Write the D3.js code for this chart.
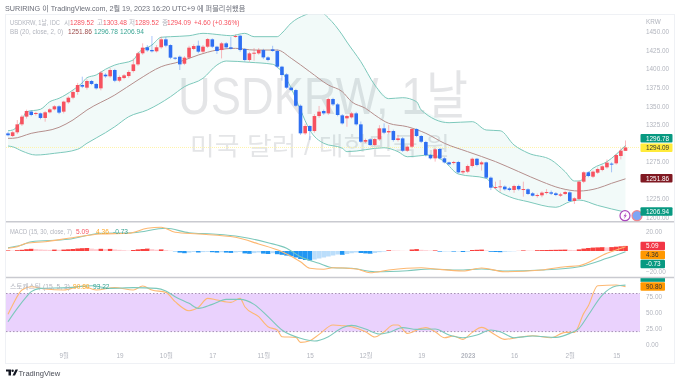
<!DOCTYPE html>
<html>
<head>
<meta charset="utf-8">
<script src="https://cdn.jsdelivr.net/npm/d3@7"></script>
<style>
  html, body { margin: 0; padding: 0; background: #fff; }
  text { font-family: "Liberation Sans", "Noto Sans CJK KR", sans-serif; }
  svg { filter: blur(0.35px); }
</style>
</head>
<body>
<div id="chart"></div>
<script>
const opens = [
  1313, 1309.5, 1314.5, 1325.2, 1335.6, 1342.3, 1339.2, 1340, 1333.8, 1341.4,
  1345.4, 1349.5, 1342.3, 1354.9, 1361.1, 1368.8, 1378.2, 1374.6, 1383.6, 1379.6,
  1373.7, 1392.1, 1389.9, 1398.4, 1384, 1387.6, 1390.3, 1397, 1406, 1420.9,
  1429, 1425.4, 1423.6, 1429, 1439.7, 1432, 1415, 1416.3, 1406.9, 1415,
  1426.7, 1431.2, 1423.1, 1429.8, 1439.7, 1429.8, 1425.3, 1434.3, 1428.9, 1443.3,
  1444.6, 1426.7, 1411.9, 1420.8, 1420.8, 1425.3, 1415.4, 1426.2, 1424, 1402.9,
  1392.5, 1374.6, 1371.4, 1350.3, 1313.1, 1323, 1316.2, 1336.4, 1343.2, 1340,
  1359.3, 1352.1, 1337.3, 1333.3, 1334.6, 1340, 1325.2, 1301.8, 1305, 1297.4,
  1305, 1319.8, 1314.4, 1316.2, 1304.1, 1306.3, 1289.7, 1295.1, 1318.9, 1309.5,
  1301.4, 1283.9, 1279.4, 1292, 1279.4, 1274, 1273.1, 1274.5, 1260.5, 1261.4,
  1269.1, 1278.9, 1271.3, 1274, 1253.4, 1239.9, 1240.4, 1241.3, 1239, 1236.8,
  1242.2, 1237.2, 1237.7, 1232.3, 1228.7, 1229.6, 1232.7, 1233.6, 1232.3, 1229.1,
  1231.4, 1233.6, 1222, 1224.7, 1248, 1260.6, 1254.7, 1260.1, 1263.7, 1267.3,
  1272.3, 1272.7, 1282.6, 1289.52
];
const closes = [
  1310.5, 1314.5, 1325.2, 1335.6, 1343.2, 1337.8, 1340.5, 1333.8, 1341.4, 1345.4,
  1349.5, 1341, 1355.8, 1361.1, 1368.8, 1378.2, 1376, 1383.6, 1379.6, 1373.7,
  1394.8, 1389.9, 1398.4, 1384, 1389, 1391.2, 1395.7, 1406, 1420.9, 1428.5,
  1424.9, 1423.6, 1429, 1439.7, 1431.2, 1415, 1414.1, 1406, 1415, 1428.5,
  1430.7, 1423.1, 1429.8, 1440.1, 1429.8, 1424, 1434.3, 1428.9, 1427.1, 1444.2,
  1425.3, 1411.9, 1420.8, 1421.7, 1425.3, 1415.4, 1411.9, 1424, 1402.9, 1391.6,
  1374.6, 1371.4, 1350.3, 1313.1, 1323, 1316.2, 1336.4, 1342.3, 1340, 1359.3,
  1352.1, 1337.8, 1326.5, 1336.4, 1340, 1325.2, 1301.8, 1304.1, 1297.4, 1305.4,
  1319.8, 1314, 1316.2, 1304.1, 1306.3, 1289.7, 1295.1, 1318.9, 1309.5, 1301.8,
  1283.9, 1279.4, 1291.5, 1279.4, 1274, 1271.3, 1274.5, 1260.5, 1262.3, 1269.1,
  1278.9, 1270.4, 1274, 1253.4, 1239.9, 1240.8, 1241.7, 1237.7, 1236.8, 1242.2,
  1237.7, 1238.1, 1231.4, 1229.1, 1230, 1233.2, 1234.1, 1231.8, 1230, 1230.9,
  1234.1, 1222, 1225.6, 1248, 1260.6, 1255.6, 1261.5, 1265, 1268.7, 1273.6,
  1271.4, 1283.9, 1289.8, 1294.09
];
const highs = [
  1315, 1316, 1331, 1338, 1345, 1344, 1342, 1341, 1343, 1347,
  1351, 1351, 1357, 1363, 1371, 1381, 1389.4, 1386, 1385, 1381,
  1397, 1394, 1401, 1400, 1391, 1393, 1398, 1414, 1423, 1434.3,
  1432, 1444.2, 1432, 1443.3, 1443, 1433, 1416, 1418, 1417, 1431,
  1433, 1438, 1432, 1441.5, 1441, 1431, 1436, 1436, 1443, 1446,
  1445.5, 1428, 1423, 1428, 1428, 1427, 1417, 1431, 1426, 1404,
  1394, 1376, 1373, 1352, 1326, 1324, 1339, 1350, 1345, 1361,
  1361, 1354, 1339, 1338, 1342, 1342, 1329, 1306, 1306.5, 1307,
  1324, 1326.5, 1324.3, 1318, 1311, 1308, 1297, 1320, 1320, 1311,
  1303, 1285, 1293, 1293, 1281, 1275, 1276, 1276, 1264, 1271,
  1280.5, 1280, 1276, 1275, 1255, 1248, 1250.3, 1243, 1241, 1244,
  1244, 1248, 1239, 1234, 1232, 1235, 1238, 1236, 1234, 1233,
  1236, 1235, 1227, 1249.5, 1262, 1262, 1263, 1267, 1270, 1278,
  1274, 1285.5, 1293, 1303.48
];
const lows = [
  1309, 1308, 1312, 1323, 1333, 1336, 1337, 1332, 1328.8, 1340,
  1344, 1339, 1340, 1353, 1359, 1365, 1374, 1372, 1378, 1372,
  1371, 1388, 1388, 1382, 1382, 1386, 1388, 1395, 1404, 1419,
  1423, 1422, 1422, 1427, 1429, 1413, 1412, 1398.4, 1405, 1413,
  1425, 1421, 1421, 1428, 1428, 1420, 1414, 1427, 1426, 1442,
  1423, 1410, 1409.5, 1411, 1419, 1413, 1410, 1423, 1401, 1384,
  1373, 1370, 1349, 1311, 1311, 1304, 1314, 1334, 1338, 1338,
  1350, 1336, 1325, 1322, 1333, 1323.5, 1300, 1300, 1296, 1296,
  1303, 1312, 1312, 1302, 1302, 1288, 1288, 1293, 1308, 1300,
  1282, 1278, 1275, 1278, 1272.5, 1270, 1271, 1259, 1258, 1259.5,
  1267, 1268.5, 1263, 1252, 1236.7, 1238, 1234.5, 1236, 1235, 1233,
  1236, 1227.8, 1230, 1228, 1226.5, 1227, 1231, 1230, 1228.5, 1227.5,
  1230, 1221, 1218, 1223, 1246, 1254, 1253, 1258.5, 1262, 1265.5,
  1260.6, 1271, 1278, 1289.52
];

const bbUpperAt = [0, 1, 3, 4, 7, 9, 11, 14, 16, 17, 19, 21, 23, 27, 28, 31, 33, 35, 39, 42, 46, 48, 51, 53, 58, 59, 61, 64, 67, 69, 72, 73, 76, 79, 82, 85, 88, 89, 95, 100, 103, 106, 109, 112, 117, 120, 122, 123, 126, 129, 133];
const bbUpper = [1316.6, 1317.6, 1331, 1342.2, 1345.5, 1355.7, 1360.3, 1371.5, 1381.3, 1388, 1391.7, 1399.4, 1405.1, 1411.9, 1420.9, 1432.1, 1442.5, 1443.3, 1444.6, 1447.8, 1445.6, 1444.6, 1447.8, 1443.3, 1443.3, 1448.2, 1461.7, 1472.6, 1477.9, 1468.5, 1445.6, 1436.1, 1409.6, 1378.2, 1359.8, 1361.1, 1355.7, 1344.5, 1327.4, 1328.8, 1317.6, 1316.6, 1297.4, 1286.6, 1277.2, 1261.4, 1248.9, 1248.9, 1266, 1274.9, 1296.78];
const bbMidAt = [0, 1, 5, 11, 14, 17, 23, 28, 33, 37, 41, 45, 49, 53, 58, 61, 65, 69, 72, 74, 77, 79, 82, 86, 90, 94, 99, 105, 110, 115, 119, 123, 127, 130, 133];
const bbMid = [1306.4, 1306.4, 1313.1, 1321.2, 1331.1, 1344.5, 1364.7, 1385, 1402.9, 1409.6, 1418.6, 1425.3, 1427.6, 1425.3, 1425.3, 1414.2, 1396.1, 1378.2, 1369.2, 1355.7, 1346.8, 1337.8, 1326.6, 1322, 1313.1, 1299.7, 1288.4, 1275, 1261.5, 1248, 1239.1, 1235.4, 1239.1, 1245.8, 1251.86];
const bbLowerAt = [0, 1, 3, 6, 10, 15, 17, 21, 23, 26, 30, 35, 38, 42, 45, 47, 52, 57, 59, 61, 63, 65, 68, 72, 73, 81, 84, 86, 91, 94, 97, 103, 105, 108, 112, 118, 121, 123, 127, 133];
const bbLower = [1296, 1295, 1289.3, 1283.9, 1286.2, 1291.6, 1299.7, 1314, 1322, 1335.5, 1344.5, 1362.4, 1375.9, 1387.2, 1405.1, 1410.5, 1408.8, 1406.1, 1395.7, 1373.8, 1344.5, 1317.6, 1299.7, 1293, 1288.4, 1293.7, 1288.4, 1281.6, 1283.9, 1274.9, 1258.3, 1252.5, 1238, 1227.7, 1221, 1213.5, 1221, 1223.3, 1216, 1206.94];

const macdHist = [
  0.6, 0.4, 0.8, 1.2, 1.8, 2.2, 1.9, 1.6, 1.3, 1.1,
  1.4, 1.2, 1.4, 1.7, 2.0, 2.5, 2.8, 3.0, 2.4, 1.8,
  2.2, 1.9, 2.1, 1.6, 1.2, 0.8, 0.4, 1.0, 1.6, 2.0,
  2.4, 1.9, 1.3, 1.6, 0.9, 0.3, -0.3, -1.6, -2.2, -1.6,
  -1.0, -1.5, -1.1, -0.8, -1.2, -1.6, -1.2, -1.6, -1.9, -1.4,
  -1.0, -2.4, -2.8, -2.1, -1.5, -2.6, -3.0, -2.2, -3.2, -3.8,
  -4.6, -5.2, -6.5, -8, -9, -9.5, -8.5, -7.5, -6.5, -5.5,
  -4.5, -3.5, -3.8, -3, -2.2, -1.5, -2, -2.4, -2.7, -2,
  -1.2, -0.6, 0.7, 0.5, 0.4, 0.2, 0.1, 1.5, 1.9, 1.2,
  0.8, 0.4, 0.6, -0.6, -0.5, -0.4, -0.6, -0.4, -1.0, -0.7,
  1.0, 1.2, 1.4, 0.6, -0.8, -1.0, -1.2, -0.8, -0.5, -0.3,
  0.1, 0.6, 0.4, 0.3, 0.8, 0.9, 1, 1.1, 1.2, 1.3,
  1.4, 1.1, 0.9, 1.6, 2.4, 3.0, 3.4, 3.6, 3.8, 3.6,
  3.9, 4.3, 4.7, 5.09
];
const macdSignalAt = [0, 3, 5, 13, 20, 27, 34, 39, 44, 50, 56, 60, 63, 67, 70, 74, 79, 86, 91, 97, 102, 107, 115, 123, 129, 133];
const macdSignal = [3.3, 6, 9.3, 11.7, 17.7, 18.3, 22.7, 18.3, 17, 14.3, 8.3, 2.7, -5.7, -12.3, -16.7, -17.3, -20.7, -19.7, -18, -19, -18, -20, -19, -15.7, -7.3, -0.73];
const macdLineAt = [0, 2, 4, 8, 13, 20, 26, 30, 33, 36, 41, 49, 54, 59, 63, 65, 68, 70, 75, 78, 82, 89, 92, 98, 102, 107, 115, 120, 123, 129, 133];
const macdLine = [2.7, 4.3, 7.7, 9.3, 12.7, 17, 17.7, 22.7, 23.7, 18.7, 17, 13.7, 7, -0.7, -10.7, -17.3, -18.3, -16.7, -18, -21.7, -19, -16.7, -18, -20, -17, -20.7, -19, -15.7, -14.7, -2.3, 4.36];

const stochSlowAt = [0, 2, 4, 5, 7, 13, 18, 22, 27, 32, 34, 36, 39, 41, 44, 47, 50, 53, 56, 59, 63, 66, 69, 72, 74, 77, 80, 82, 85, 88, 92, 95, 98, 101, 104, 106, 109, 113, 118, 121, 123, 125, 128, 131, 133];
const stochSlow = [35.6, 56.6, 75, 82.9, 88.1, 89.2, 92.3, 88.1, 89.2, 88.1, 83.9, 75, 64.5, 56.6, 62.9, 70.8, 70.8, 62.9, 43.5, 22.5, 9.4, 5.1, 12, 26, 29.8, 24, 16.2, 18.8, 26.2, 23.5, 24, 14.6, 10.4, 14.6, 22.5, 19.9, 10.4, 13, 10.9, 17.2, 25.1, 46.1, 77.6, 91.8, 93.22];
const stochFastAt = [0, 1, 3, 5, 8, 12, 16, 19, 23, 27, 29, 31, 34, 36, 39, 41, 43, 45, 48, 50, 51, 54, 56, 58, 59, 62, 63, 65, 67, 70, 72, 74, 77, 79, 81, 83, 84, 86, 89, 90, 92, 94, 96, 98, 100, 102, 105, 107, 110, 113, 117, 120, 122, 124, 125, 127, 131, 133];
const stochFast = [47.2, 61.9, 85.5, 90.7, 87, 85.5, 91.8, 85.5, 89.2, 85.5, 91.8, 85.5, 81.8, 67.1, 52.9, 58.2, 72.4, 69.7, 66, 72.4, 59.2, 43.5, 27.7, 22.5, 12, 10.9, 3, 5.7, 15.6, 30.4, 29.3, 27.7, 19.9, 11.5, 19.9, 30.4, 30.4, 17.2, 25.1, 26.2, 19.9, 10.4, 13, 7.8, 18.8, 26.7, 14.6, 7.8, 10.9, 13.5, 10.4, 18.8, 18.8, 48.7, 60.8, 92.3, 93.4, 90.8];

const timeTickAt = [12, 24, 34, 44, 55, 65, 77, 89, 99, 109, 121, 131];
const timeLabels = ['9월', '19', '10월', '17', '11월', '15', '12월', '19', '2023', '16', '2월', '15'];
const priceTicks = [1200, 1225, 1275, 1325, 1350, 1375, 1400, 1425, 1450];
const macdTicks = [20, -20];
const stochTicks = [0, 25, 50, 75];

const width = 680, height = 382;
const fontStack = '"Liberation Sans", "Noto Sans CJK KR", sans-serif';
const red = '#f7525f', blue = '#2e6ff2', teal = '#089981';
const bandLine = '#7cc8bb', midLine = '#b58f8d', orange = '#fdb872', grey = '#b2b5be';

const svg = d3.select('#chart').append('svg')
  .attr('width', width).attr('height', height)
  .style('display', 'block');

const x = d3.scaleLinear().domain([0, 133]).range([8, 625.5]);
const yPrice = d3.scaleLinear().domain([1200, 1450]).range([217.3, 31.7]);
const yMacd = d3.scaleLinear().domain([-20, 20]).range([271, 231]);
const yStoch = d3.scaleLinear().domain([0, 100]).range([344.3, 280.8]);

const defs = svg.append('defs');
defs.append('clipPath').attr('id', 'clipMain').append('rect').attr('x', 6).attr('y', 14.5).attr('width', 634).attr('height', 207);
defs.append('clipPath').attr('id', 'clipMacd').append('rect').attr('x', 6).attr('y', 222).attr('width', 634).attr('height', 55);
defs.append('clipPath').attr('id', 'clipStoch').append('rect').attr('x', 6).attr('y', 278).attr('width', 634).attr('height', 85);

// outer frame
svg.append('rect').attr('x', 5.5).attr('y', 14.5).attr('width', 669).attr('height', 349)
  .attr('fill', 'none').attr('stroke', '#eff1f5');

// watermark
const mark = svg.append('g').attr('fill', '#787b86').attr('fill-opacity', 0.2);
mark.append('text').attr('x', 178).attr('y', 114).attr('font-size', 52)
  .attr('textLength', 290).attr('lengthAdjust', 'spacingAndGlyphs').text('USDKRW, 1날');
mark.append('text').attr('x', 190).attr('y', 155).attr('font-size', 25)
  .attr('textLength', 260).attr('lengthAdjust', 'spacingAndGlyphs').text('미국 달러 / 대한민국 원');

function series(at, values, scale) {
  return at.map((a, i) => [x(a), scale(values[i])]);
}

// main pane
const main = svg.append('g').attr('clip-path', 'url(#clipMain)');
const upperPts = series(bbUpperAt, bbUpper, yPrice);
const lowerPts = series(bbLowerAt, bbLower, yPrice);
main.append('path')
  .attr('d', d3.line()(upperPts.concat(lowerPts.slice().reverse())) + 'Z')
  .attr('fill', '#26a69a').attr('fill-opacity', 0.06);
main.append('line').attr('x1', 6).attr('x2', 640)
  .attr('y1', yPrice(closes[133])).attr('y2', yPrice(closes[133]))
  .attr('stroke', '#fff3a8').attr('stroke-dasharray', '1,1');

const pathLine = d3.line().curve(d3.curveMonotoneX);
[[upperPts, bandLine], [lowerPts, bandLine], [series(bbMidAt, bbMid, yPrice), midLine]].forEach(([pts, col]) => {
  main.append('path').attr('d', pathLine(pts)).attr('fill', 'none').attr('stroke', col).attr('stroke-width', 1);
});

const candles = main.append('g').selectAll('g').data(d3.range(opens.length)).join('g');
candles.append('line')
  .attr('x1', i => x(i)).attr('x2', i => x(i))
  .attr('y1', i => yPrice(highs[i])).attr('y2', i => yPrice(lows[i]))
  .attr('stroke', i => closes[i] >= opens[i] ? red : blue)
  .attr('stroke-opacity', 0.4);
candles.append('rect')
  .attr('x', i => x(i) - 1.8).attr('width', 3.6)
  .attr('y', i => yPrice(Math.max(opens[i], closes[i])))
  .attr('height', i => Math.max(1, Math.abs(yPrice(opens[i]) - yPrice(closes[i]))))
  .attr('fill', i => closes[i] >= opens[i] ? red : blue);

// macd pane
const macd = svg.append('g').attr('clip-path', 'url(#clipMacd)');
macd.selectAll('rect').data(macdHist).join('rect')
  .attr('x', (d, i) => x(i) - 2.3).attr('width', 4.64)
  .attr('y', d => Math.min(yMacd(d), yMacd(0)))
  .attr('height', d => Math.abs(yMacd(d) - yMacd(0)))
  .attr('fill', (d, i) => {
    const prev = i ? macdHist[i - 1] : 0;
    if (d >= 0) return d > prev ? '#f9413f' : '#ffcdd2';
    return d < prev ? '#2196f3' : '#bbdefb';
  });
macd.append('path').attr('d', pathLine(series(macdSignalAt, macdSignal, yMacd)))
  .attr('fill', 'none').attr('stroke', bandLine).attr('stroke-width', 1.1);
macd.append('path').attr('d', pathLine(series(macdLineAt, macdLine, yMacd)))
  .attr('fill', 'none').attr('stroke', orange).attr('stroke-width', 1.1);

// stochastic pane
const stoch = svg.append('g').attr('clip-path', 'url(#clipStoch)');
stoch.append('rect').attr('x', 6).attr('width', 634)
  .attr('y', yStoch(80)).attr('height', yStoch(20) - yStoch(80))
  .attr('fill', '#ead2fd');
[80, 20].forEach(v => {
  stoch.append('line').attr('x1', 6).attr('x2', 640).attr('y1', yStoch(v)).attr('y2', yStoch(v))
    .attr('stroke', '#a692b4').attr('stroke-dasharray', '1.5,2');
});
stoch.append('path').attr('d', pathLine(series(stochFastAt, stochFast, yStoch)))
  .attr('fill', 'none').attr('stroke', orange).attr('stroke-width', 1.1);
stoch.append('path').attr('d', pathLine(series(stochSlowAt, stochSlow, yStoch)))
  .attr('fill', 'none').attr('stroke', bandLine).attr('stroke-width', 1.1);

[221.7, 277.5].forEach(y => {
  svg.append('line').attr('x1', 6).attr('x2', 674).attr('y1', y).attr('y2', y)
    .attr('stroke', '#c9cad0').attr('stroke-width', 1.4);
});

// axes
function rightAxis(scale, ticks) {
  const g = svg.append('g').attr('transform', 'translate(646,0)')
    .call(d3.axisRight(scale).tickValues(ticks).tickSize(0).tickPadding(0).tickFormat(d3.format('.2f')));
  g.select('.domain').remove();
  g.selectAll('text').attr('fill', grey).attr('font-size', 6.4).style('font-family', fontStack);
  return g;
}
rightAxis(yPrice, priceTicks);
rightAxis(yMacd, macdTicks);
rightAxis(yStoch, stochTicks);

const timeAxis = svg.append('g').attr('transform', 'translate(0,353.5)')
  .call(d3.axisBottom(x).tickValues(timeTickAt).tickSize(0).tickPadding(0).tickFormat((d, i) => timeLabels[i]));
timeAxis.select('.domain').remove();
timeAxis.selectAll('text').attr('fill', grey).attr('font-size', 6.4)
  .style('font-family', fontStack)
  .attr('font-weight', (d, i) => timeLabels[i] === '2023' ? 700 : 400);

svg.append('text').attr('x', 646).attr('y', 23.5).attr('fill', grey).attr('font-size', 6.4).text('KRW');

// marks near the last bar
svg.append('circle').attr('cx', 625).attr('cy', 215.7).attr('r', 5)
  .attr('fill', '#fff').attr('stroke', '#ab47bc').attr('stroke-width', 1.2);
svg.append('path').attr('d', 'M626.5,212.2 L623.5,216.2 L625,216.2 L623.8,219.2 L626.8,215.2 L625.2,215.2 Z').attr('fill', '#ab47bc');
svg.append('circle').attr('cx', 637).attr('cy', 215.7).attr('r', 5)
  .attr('fill', '#7ea6f4').attr('stroke', '#f0868c').attr('stroke-width', 1.2);

// value tags on the price scale
function tag(y, w, fill, textFill, label) {
  const g = svg.append('g');
  g.append('rect').attr('x', 640.5).attr('y', y - 4.3).attr('width', w).attr('height', 8.6).attr('rx', 1).attr('fill', fill);
  g.append('text').attr('x', 646).attr('y', y + 2.4).attr('fill', textFill).attr('font-size', 6.4).text(label);
}
tag(138.3, 32, teal, '#fff', '1296.78');
tag(147.7, 32, '#ffeb3b', '#333', '1294.09');
tag(178.3, 32, '#801922', '#fff', '1251.86');
tag(211.5, 32, teal, '#fff', '1206.94');
tag(246, 24.5, '#f23645', '#fff', '5.09');
tag(255, 24.5, '#ff9800', '#333', '4.36');
tag(264, 24.5, teal, '#fff', '-0.73');
const stochTop = svg.append('g');
stochTop.append('rect').attr('x', 640.5).attr('y', 278.2).attr('width', 24.5).attr('height', 3.6).attr('fill', teal);
tag(286.5, 24.5, '#ff9800', '#333', '90.80');

// legends
svg.append('text').attr('x', 5).attr('y', 10.5).attr('fill', '#6a6d78').attr('font-size', 7.2)
  .text('SURIRING 이 TradingView.com, 2월 19, 2023 16:20 UTC+9 에 퍼블리쉬했음');

function legend(y, items) {
  items.forEach(([lx, col, str, len]) => {
    const t = svg.append('text').attr('x', lx).attr('y', y).attr('fill', col).attr('font-size', 6.6).text(str);
    if (len) t.attr('textLength', len).attr('lengthAdjust', 'spacingAndGlyphs');
  });
}
legend(25, [[10, grey, 'USDKRW, 1날, IDC', 50], [64, grey, '시'], [70, red, '1289.52'], [97, grey, '고'], [103, red, '1303.48'],
  [129, grey, '저'], [135, red, '1289.52'], [162, grey, '종'], [167, red, '1294.09'], [194, red, '+4.60 (+0.36%)']]);
legend(34, [[10, grey, 'BB (20, close, 2, 0)', 53], [68, '#9c4a4a', '1251.86'], [94, '#3aa594', '1296.78'], [120, '#3aa594', '1206.94']]);
legend(233.5, [[10, grey, 'MACD (15, 30, close, 7)', 62], [76, red, '5.09'], [96, '#ffa726', '4.36'], [113, '#3aa594', '-0.73']]);
legend(288.5, [[10, grey, '스토캐스틱 (15, 5, 3)', 60], [73, '#ffa726', '90.80'], [93, '#3aa594', '93.22']]);

// logo
svg.append('path').attr('d', 'M6,369.5 H11 V375.5 H8.5 V371.5 H6 Z M15.5,369.5 H18 L15,375.5 H12.5 Z').attr('fill', '#131722');
svg.append('circle').attr('cx', 12.6).attr('cy', 370.8).attr('r', 1.2).attr('fill', '#131722');
svg.append('text').attr('x', 18.5).attr('y', 375.5).attr('fill', '#4a4d57').attr('font-size', 7.6).text('TradingView');
</script>
</body>
</html>
